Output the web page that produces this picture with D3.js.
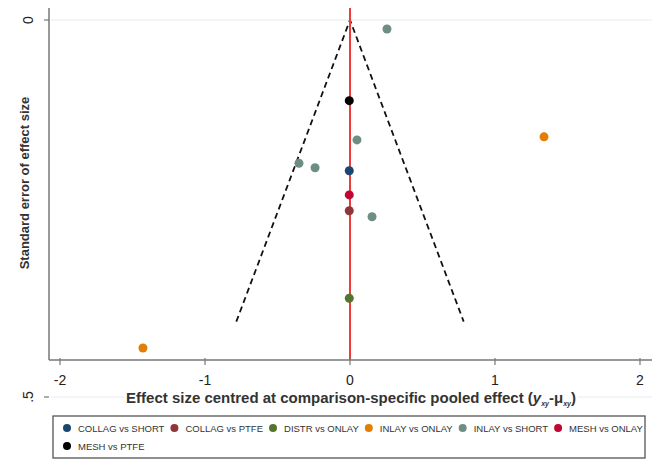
<!DOCTYPE html>
<html><head><meta charset="utf-8">
<script src="https://cdn.jsdelivr.net/npm/d3@7"></script>
<style>body{margin:0;background:#fff}svg{display:block;font-family:Arial,"Liberation Sans",sans-serif}</style>
</head><body><svg id="c" width="659" height="460"></svg>
<script>
// ---- data ----
const comparisons = ["COLLAG vs SHORT","COLLAG vs PTFE","DISTR vs ONLAY","INLAY vs ONLAY","INLAY vs SHORT","MESH vs ONLAY","MESH vs PTFE"];
const palette = ["#1a476f","#90353b","#55752f","#e37e00","#6e8e84","#c10534","#000000"];
const pointGroup  = ["INLAY vs SHORT","MESH vs PTFE","INLAY vs ONLAY","INLAY vs SHORT","INLAY vs SHORT","INLAY vs SHORT","COLLAG vs SHORT","MESH vs ONLAY","COLLAG vs PTFE","INLAY vs SHORT","DISTR vs ONLAY","INLAY vs ONLAY"];
const pointEffect = [0.255, -0.005, 1.338, 0.048, -0.352, -0.241, -0.005, -0.005, -0.005, 0.152, -0.005, -1.428];
const pointSE     = [0.012, 0.107, 0.155, 0.159, 0.190, 0.196, 0.200, 0.232, 0.253, 0.261, 0.369, 0.435];
const xTicks = [-2, -1, 0, 1, 2];
const yTicks = [0, 0.5];
const yTickLabels = ["0", ".5"];
const funnelSEMax = 0.4;

// ---- scales ----
const svg = d3.select("#c");
const x = d3.scaleLinear().domain([-2, 2]).range([60, 640]);
const y = d3.scaleLinear().domain([0, 0.5]).range([20, 397]);
const color = d3.scaleOrdinal().domain(comparisons).range(palette);
const axisLeftX = 49, axisBottomY = 360, plotTop = 8, plotRight = 652;

// faint gridlines
svg.selectAll("line.grid").data(yTicks).join("line")
  .attr("x1", axisLeftX + 2).attr("x2", plotRight)
  .attr("y1", d => y(d)).attr("y2", d => y(d))
  .attr("stroke", "#e6ecee").attr("stroke-width", 1);

// funnel
const funnel = [[-1.96 * funnelSEMax, funnelSEMax], [0, 0], [1.96 * funnelSEMax, funnelSEMax]];
svg.append("path")
  .attr("d", d3.line().x(d => x(d[0])).y(d => y(d[1]))(funnel))
  .attr("fill", "none").attr("stroke", "#111").attr("stroke-width", 1.8)
  .attr("stroke-dasharray", "6,4");

// null line
svg.append("line").attr("x1", x(0)).attr("x2", x(0))
  .attr("y1", plotTop).attr("y2", axisBottomY)
  .attr("stroke", "#ee3b3b").attr("stroke-width", 2);

// points
svg.selectAll("circle.pt").data(pointEffect.map((e, i) => ({e, s: pointSE[i], g: pointGroup[i]})))
  .join("circle")
  .attr("cx", d => x(d.e)).attr("cy", d => y(d.s)).attr("r", 4.5)
  .attr("fill", d => color(d.g));

// axes
svg.append("line").attr("x1", axisLeftX).attr("x2", axisLeftX)
  .attr("y1", plotTop).attr("y2", axisBottomY)
  .attr("stroke", "#777").attr("stroke-width", 1.5);
svg.append("line").attr("x1", axisLeftX).attr("x2", plotRight)
  .attr("y1", axisBottomY).attr("y2", axisBottomY)
  .attr("stroke", "#777").attr("stroke-width", 1.5);

// x ticks
svg.selectAll("line.xt").data(xTicks).join("line")
  .attr("x1", d => x(d)).attr("x2", d => x(d))
  .attr("y1", axisBottomY - 2).attr("y2", axisBottomY + 5)
  .attr("stroke", "#777").attr("stroke-width", 1.2);
svg.selectAll("text.xt").data(xTicks).join("text")
  .attr("x", d => x(d)).attr("y", 385)
  .attr("text-anchor", "middle").attr("font-size", 14).attr("fill", "#222")
  .text(d => d3.format("d")(d).replace("−", "-"));

// y ticks
svg.selectAll("line.yt").data(yTicks).join("line")
  .attr("x1", axisLeftX - 5).attr("x2", axisLeftX)
  .attr("y1", d => y(d)).attr("y2", d => y(d))
  .attr("stroke", "#777").attr("stroke-width", 1.2);
svg.selectAll("text.yt").data(yTicks).join("text")
  .attr("transform", d => `translate(33,${y(d)}) rotate(-90)`)
  .attr("text-anchor", "middle").attr("font-size", 14).attr("fill", "#222")
  .text((d, i) => yTickLabels[i]);

// y title
svg.append("text").attr("transform", "translate(29,183) rotate(-90)")
  .attr("text-anchor", "middle").attr("font-size", 13).attr("font-weight", "bold").attr("fill", "#333")
  .text("Standard error of effect size");

// x title with white background
const xt = svg.append("text").attr("x", 351).attr("y", 403)
  .attr("text-anchor", "middle").attr("font-size", 15).attr("font-weight", "bold").attr("fill", "#333");
xt.append("tspan").text("Effect size centred at comparison-specific pooled effect (");
xt.append("tspan").attr("font-style", "italic").text("y");
xt.append("tspan").attr("font-size", 7).attr("font-style", "italic").attr("dy", 3).text("xy");
xt.append("tspan").attr("dy", -3).text("-μ");
xt.append("tspan").attr("font-size", 7).attr("font-style", "italic").attr("dy", 3).text("xy");
xt.append("tspan").attr("dy", -3).text(")");
const bb = xt.node().getBBox();
svg.insert("rect", "text").attr("x", bb.x - 2).attr("y", bb.y).attr("width", bb.width + 4).attr("height", bb.height)
  .attr("fill", "#fff");
xt.raise();

// legend
const lg = svg.append("g");
lg.append("rect").attr("x", 53).attr("y", 416).attr("width", 592).attr("height", 42)
  .attr("fill", "#fff").attr("stroke", "#555").attr("stroke-width", 1.3);
let cx = 67, rowY = 429;
comparisons.forEach((c, i) => {
  if (i === 6) { cx = 67; rowY = 447; }
  lg.append("circle").attr("cx", cx).attr("cy", rowY - 1).attr("r", 4).attr("fill", color(c));
  const t = lg.append("text").attr("x", cx + 11).attr("y", rowY + 3)
    .attr("font-size", 9.5).attr("fill", "#333").text(c);
  cx = cx + 11 + t.node().getComputedTextLength() + 10;
});
</script></body></html>
